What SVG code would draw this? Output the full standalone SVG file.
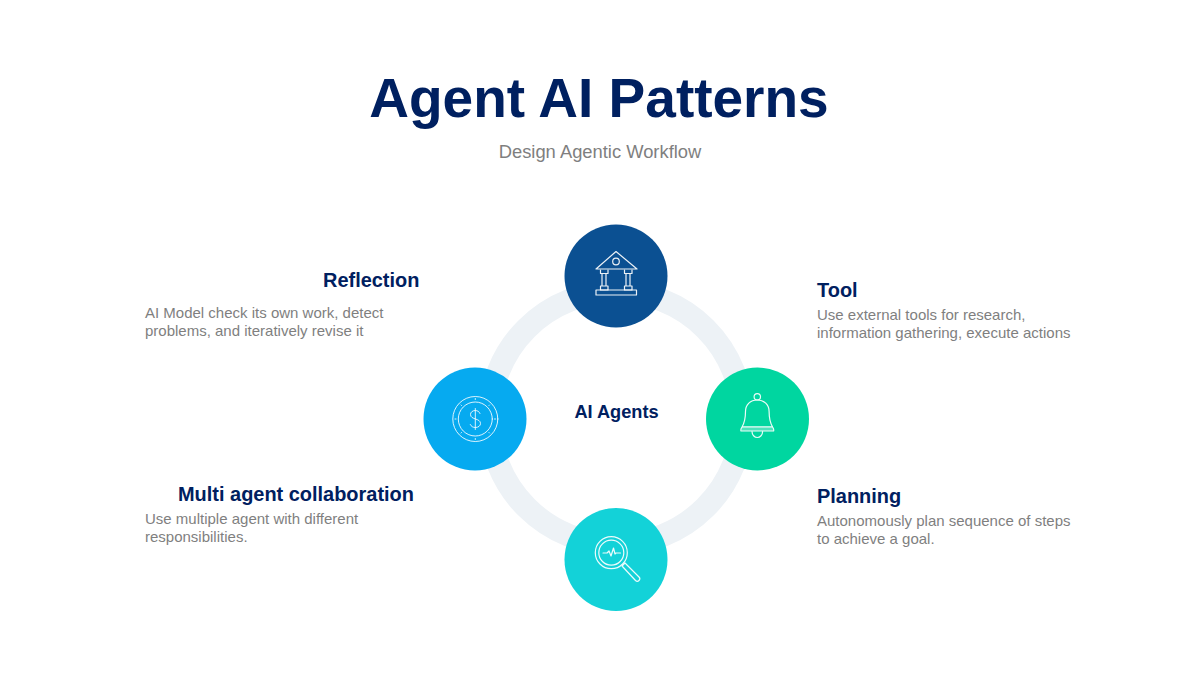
<svg xmlns="http://www.w3.org/2000/svg" width="1200" height="676" viewBox="0 0 1200 676">
<style>
text{font-family:"Liberation Sans",Arial,sans-serif}
.h{font-weight:700;font-size:19.950px;fill:#002060}
.d{font-size:15px;fill:#7f7f7f}
.i{fill:none;stroke:#fff;stroke-width:1.200;stroke-linejoin:round;stroke-linecap:round;stroke-opacity:.92}
.thin{stroke-width:1;stroke-opacity:.85}
</style>
<rect width="1200" height="676" fill="#fff"/>
<text x="599" y="117" text-anchor="middle" font-weight="700" fill="#002060" font-size="55">Agent AI Patterns</text>
<text x="600" y="158" text-anchor="middle" font-size="18.350" fill="#7f7f7f">Design Agentic Workflow</text>
<g id="connectors"><circle cx="616" cy="418" r="126.500" fill="none" stroke="#edf2f6" stroke-width="23"/></g>
<g id="center"><text x="616.500" y="418" text-anchor="middle" font-size="18.200" font-weight="700" fill="#002060">AI Agents</text></g>
<g id="node-top">
<circle cx="616" cy="276" r="51.500" fill="#0b5092"/>
<g class="i">
<path d="M596 269L616 251.500L637 269Z"/><circle cx="616" cy="261.500" r="3.300"/>
<path d="M600.500 270v3.500h7.500v-3.500M602 273.500v12.500M606 273.500v12.500M600.500 286h7.500v4h-7.500Z"/>
<path d="M624.500 270v3.500h7.500v-3.500M626 273.500v12.500M630 273.500v12.500M624.500 286h7.500v4h-7.500Z"/>
<rect x="596" y="290" width="40.500" height="5"/>
</g></g>
<g id="node-left">
<circle cx="475" cy="419" r="51.500" fill="#06aaf0"/>
<g class="i thin">
<circle cx="475.300" cy="419" r="22.500"/><circle cx="475.300" cy="419" r="17"/>
<path d="M480 413.500c-.8-2-2.700-3-4.700-3c-2.800 0-4.800 1.800-4.800 4c0 5.500 10 3.500 10 9c0 2.300-2.300 4-5 4c-2.500 0-4.300-1-5.200-3M475.300 408.500v21"/>
<path d="M475.300 398.500v1M475.300 438.500v1M455 419h1M494.500 419h1M461 405l.5.500M489.500 405l-.5.500M461 433l.5-.500M489.500 433l-.5-.500"/>
</g></g>
<g id="node-right">
<circle cx="757.500" cy="419" r="51.500" fill="#00d6a0"/>
<g class="i">
<circle cx="757.300" cy="396.800" r="3.200"/>
<path d="M741 431c-.5-1.500 0-2.500 1-4c3-5 3.500-10 3.500-15.500c0-7 5-11.500 11.800-11.500s11.800 4.500 11.800 11.500c0 5.500 .5 10.500 3.500 15.500c1 1.500 1.500 2.500 1 4Z"/>
<path d="M741.500 426.800h31.500v4.200h-31.500Z" fill="#fff" fill-opacity=".3" stroke="none"/>
<path d="M742.500 426.800h29.500M752 431.500c0 3.300 2.400 6 5.300 6s5.300-2.700 5.300-6"/>
</g></g>
<g id="node-bottom">
<circle cx="616" cy="559.500" r="51.500" fill="#13d2d8"/>
<g class="i">
<circle cx="611.300" cy="552.700" r="16"/><circle cx="611.300" cy="552.700" r="12.500"/>
<path d="M603 553h4l2-2l2 5l2.500-8l1.500 6l1-1h4.500"/>
<path d="M622 566l3-3l14 14c1 1 1 2.500 0 3.500s-2.500 1-3.500 0Z"/>
</g></g>
<g id="label-reflection">
<text x="323" y="287" class="h">Reflection</text>
<text x="145" y="318" class="d">AI Model check its own work, detect</text>
<text x="145" y="336" class="d">problems, and iteratively revise it</text>
</g>
<g id="label-tool">
<text x="817" y="297" class="h">Tool</text>
<text x="817" y="320" class="d">Use external tools for research,</text>
<text x="817" y="338" class="d">information gathering, execute actions</text>
</g>
<g id="label-multi">
<text x="178" y="501" class="h">Multi agent collaboration</text>
<text x="145" y="524" class="d">Use multiple agent with different</text>
<text x="145" y="542" class="d">responsibilities.</text>
</g>
<g id="label-planning">
<text x="817" y="503" class="h">Planning</text>
<text x="817" y="526" class="d">Autonomously plan sequence of steps</text>
<text x="817" y="544" class="d">to achieve a goal.</text>
</g>
</svg>
